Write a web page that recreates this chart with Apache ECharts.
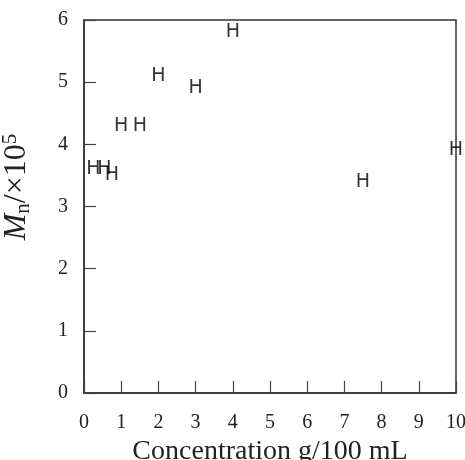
<!DOCTYPE html>
<html>
<head>
<meta charset="utf-8">
<script src="https://cdn.jsdelivr.net/npm/echarts@6/dist/echarts.min.js"></script>
<style>html,body{margin:0;padding:0;background:#fff;}#c{width:465px;height:460px;}</style>
</head>
<body>
<div id="c"></div>
<script>
var concentration = [0.25, 0.55, 0.75, 1, 1.5, 2, 3, 4, 7.5, 10];
var mn = [3.6, 3.6, 3.5, 4.3, 4.3, 5.1, 4.9, 5.8, 3.4, 3.9];
var xTicks = [0,1,2,3,4,5,6,7,8,9,10];
var yTicks = [0,1,2,3,4,5,6];
var xName = 'Concentration g/100 mL';

var data = concentration.map(function(x, i){ return [x, mn[i]]; });
var chart = echarts.init(document.getElementById('c'));
var serif = 'Liberation Serif';
chart.setOption({
  animation: false,
  backgroundColor: '#fff',
  grid: { left: 84, top: 20, right: 9, bottom: 67, containLabel: false, outerBoundsMode: 'none', show: true, borderColor: '#333', borderWidth: 1.5, backgroundColor: 'transparent' },
  xAxis: {
    type: 'value', min: xTicks[0], max: xTicks[xTicks.length-1], interval: 1,
    axisLine: { lineStyle: { color: '#333', width: 1.5 } },
    axisTick: { inside: true, length: 12, lineStyle: { color: '#444', width: 1.2 } },
    splitLine: { show: false },
    axisLabel: { fontFamily: serif, fontSize: 20, color: '#222', margin: 20 },
    name: xName, nameLocation: 'middle', nameGap: 37,
    nameTextStyle: { fontFamily: serif, fontSize: 28, color: '#222' }
  },
  yAxis: {
    type: 'value', min: yTicks[0], max: yTicks[yTicks.length-1], interval: 1,
    axisLine: { lineStyle: { color: '#333', width: 1.5 } },
    axisTick: { inside: true, length: 12, lineStyle: { color: '#444', width: 1.2 } },
    splitLine: { show: false },
    axisLabel: { fontFamily: serif, fontSize: 20, color: '#222', margin: 16 }
  },
  graphic: [{
    type: 'text', x: 17, y: 187, rotation: Math.PI/2,
    style: {
      text: '{m|M}{n|n}{t|/×10}{s|5}',
      align: 'center', verticalAlign: 'middle',
      fill: '#222',
      rich: {
        m: { fontFamily: serif, fontStyle: 'italic', fontSize: 32, fill: '#222' },
        n: { fontFamily: serif, fontSize: 21, padding: [12, 0, 0, 0], fill: '#222' },
        t: { fontFamily: serif, fontSize: 32, fill: '#222' },
        s: { fontFamily: serif, fontSize: 21, padding: [0, 0, 14, 0], fill: '#222' }
      }
    }
  }],
  series: [{
    type: 'scatter',
    data: data,
    symbol: 'circle', symbolSize: 1,
    itemStyle: { color: 'transparent' },
    label: { show: true, position: 'inside', formatter: 'H', fontFamily: 'DejaVu Sans', fontSize: 19, color: '#000' }
  }]
});
</script>
</body>
</html>
